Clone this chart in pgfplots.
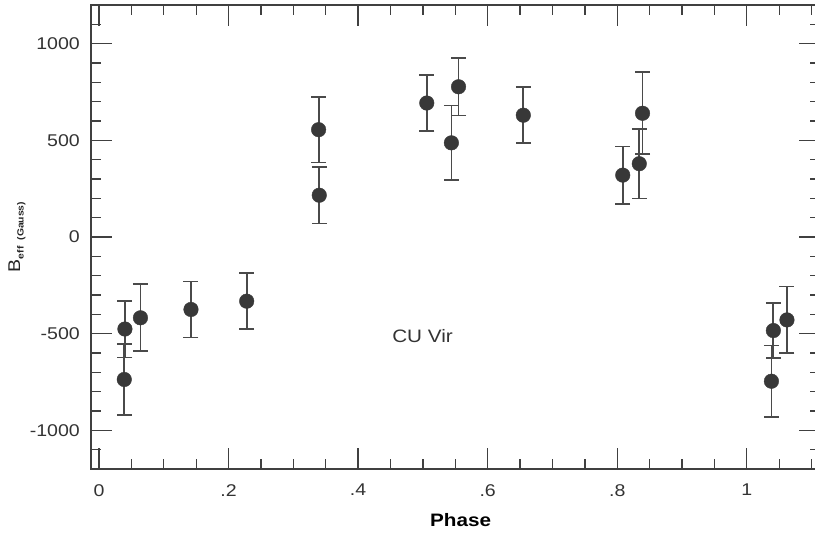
\documentclass[border=0pt]{standalone}
\usepackage{fontspec}
\setmainfont{Liberation Sans}[FakeStretch=1.15]
\usepackage{pgfplots}
\usepackage{pgfplotstable}
\pgfplotsset{compat=1.18}
\definecolor{dot}{HTML}{383838}
\definecolor{bar}{HTML}{4A4A4A}
\pgfplotstableread{
x y e
0.040 -476 147
0.039 -737 185
0.064 -418 173
0.142 -375 145
0.228 -332 144
0.339 555 170
0.340 216 146
0.506 693 144
0.544 487 193
0.555 777 149
0.655 630 145
0.8085 320 148
0.834 379 180
0.839 640 212
1.041 -484 143
1.038 -746 185
1.062 -429 173
}\data
\begin{document}
\begin{tikzpicture}
\useasboundingbox (-91pt,-65pt) rectangle (724pt,469pt);
\begin{axis}[
  at={(0,0)}, anchor=south west,
  scale only axis, width=729pt, height=464pt,
  xmin=-0.01235, xmax=1.113, ymin=-1200, ymax=1200,
  axis line style={black!75, line width=1.3pt},
  every tick/.style={black!75, line width=1.3pt},
  tick align=inside,
  major tick length=21pt, minor tick length=10pt,
  xtick={0,0.2,0.4,0.6,0.8,1}, xticklabels={0,.2,.4,.6,.8,1},
  minor xtick={0.05,0.1,0.15,0.25,0.3,0.35,0.45,0.5,0.55,0.65,0.7,0.75,0.85,0.9,0.95,1.05,1.1},
  ytick={-1000,-500,0,500,1000},
  yticklabels={-1000,-500,0,500,1000},
  minor ytick={-1100,-900,-800,-700,-600,-400,-300,-200,-100,100,200,300,400,600,700,800,900,1100},
  tick label style={font=\fontsize{17}{17}\selectfont, text=black!80, inner sep=0pt},
  xticklabel style={anchor=north, yshift=-15pt},
  yticklabel style={anchor=east, xshift=-11pt},
  xlabel={Phase},
  xlabel style={at={(axis description cs:0.507,0)}, anchor=north, inner sep=0pt, yshift=-44pt, font=\fontsize{18}{18}\selectfont\bfseries, text=black},
  ylabel={B\raisebox{-3.5pt}{\fontsize{9}{9}\selectfont\bfseries eff\hspace{6pt}(Gauss)}},
  ylabel style={at={(axis description cs:-0.1015,0.5)}, anchor=center, inner sep=0pt, font=\fontsize{17}{17}\selectfont, text=black!85},
  clip=false,
]
\addplot[only marks, mark=*, mark size=7.3pt, mark options={fill=dot, draw=dot},
  error bars/.cd, y dir=both, y explicit,
  error bar style={bar, line width=1.8pt},
  error mark options={rotate=90, mark size=7.5pt, bar, line width=1.8pt}]
  table[x=x, y=y, y error=e] {\data};
\node[font=\fontsize{18}{18}\selectfont, text=black!80] at (axis cs:0.4995,-510) {CU Vir};
\end{axis}
\end{tikzpicture}
\end{document}
